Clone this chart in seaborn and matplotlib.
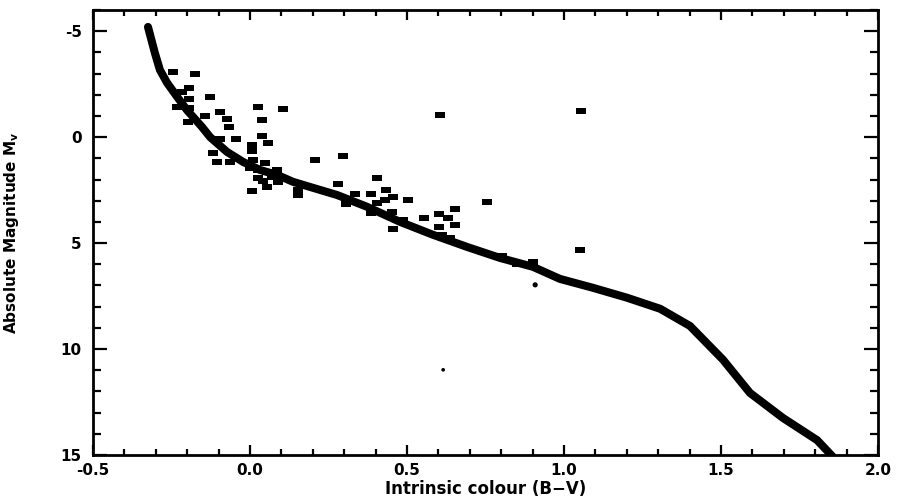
import numpy as np
import pandas as pd
import matplotlib
matplotlib.use("Agg")
import matplotlib.pyplot as plt
from matplotlib.ticker import MultipleLocator, FixedLocator, FixedFormatter
import seaborn as sns

# Main-sequence / ZAMS curve (B-V, M_V)
curve_bv = [-0.325, -0.303, -0.287, -0.264, -0.232, -0.201, -0.153, -0.127,
            -0.073, -0.022, 0.032, 0.086, 0.137, 0.191, 0.277, 0.373, 0.478,
            0.583, 0.691, 0.796, 0.901, 0.987, 1.092, 1.201, 1.306, 1.401,
            1.506, 1.592, 1.697, 1.806, 1.857]
curve_mv = [-5.2, -3.97, -3.17, -2.56, -1.9, -1.28, -0.48, 0.0,
            0.70, 1.17, 1.55, 1.78, 2.11, 2.35, 2.73, 3.29, 4.0,
            4.61, 5.18, 5.70, 6.12, 6.69, 7.11, 7.58, 8.10, 8.91,
            10.5, 12.07, 13.25, 14.3, 15.1]

# Cluster stars (B-V, M_V)
star_bv = [-0.245, -0.175, -0.194, -0.217, -0.194, -0.127, -0.232, -0.194,
           -0.096, -0.143, -0.073, -0.197, -0.067, 0.025, 0.105, 0.038,
           -0.096, -0.045, 0.038, 0.057, 0.006, 0.006, -0.118, -0.105,
           -0.064, 0.010, 0.048, 0.000, 0.025, 0.054, 0.086, 0.070,
           0.089, 0.054, 0.006, 0.153, 0.153, 0.207, 0.280, 0.296,
           0.404, 0.334, 0.306, 0.385, 0.433, 0.455, 0.404, 0.430,
           0.385, 0.452, 0.503, 0.455, 0.554, 0.602, 0.653, 0.631,
           0.653, 0.602, 0.487, 0.755, 0.803, 0.901, 0.605, 1.054,
           0.611, 0.637, 0.850, 1.051, 0.025, 0.041]
star_mv = [-3.08, -2.98, -2.32, -2.13, -1.80, -1.90, -1.42, -1.38,
           -1.19, -1.00, -0.86, -0.72, -0.48, -1.42, -1.33, -0.81,
           0.08, 0.08, -0.06, 0.27, 0.37, 0.65, 0.75, 1.17,
           1.17, 1.08, 1.22, 1.45, 1.55, 1.64, 1.55, 1.88,
           2.11, 2.35, 2.54, 2.49, 2.73, 1.08, 2.21, 0.89,
           1.92, 2.68, 3.15, 2.68, 2.49, 2.82, 3.10, 2.96,
           3.58, 3.53, 2.96, 4.33, 3.81, 3.62, 3.39, 3.81,
           4.14, 4.24, 3.91, 3.06, 5.60, 5.89, -1.05, -1.24,
           4.61, 4.75, 5.98, 5.32, 1.92, 2.07]

# Faint isolated dots
dot_bv = [0.908, 0.615]
dot_mv = [6.97, 10.98]
dot_size = [14, 7]

x_ticks = [-0.5, 0.0, 0.5, 1.0, 1.5, 2.0]
x_tick_labels = ["-0.5", "0.0", "0.5", "1.0", "1.5", "2.0"]
y_ticks = [-5, 0, 5, 10, 15]
y_tick_labels = ["-5", "0", "5", "10", "15"]

sns.set_theme(style="ticks")
plt.rcParams["font.family"] = ["DejaVu Sans"]

fig = plt.figure(figsize=(8.98, 4.97), dpi=100)
ax = fig.add_axes([0.1036, 0.0845, 0.8742, 0.8954])

sns.lineplot(x=curve_bv, y=curve_mv, sort=False, estimator=None,
             color="black", linewidth=5.8, ax=ax)

rect = [(-1, -0.65), (1, -0.65), (1, 0.65), (-1, 0.65), (-1, -0.65)]
sns.scatterplot(x=star_bv, y=star_mv, marker=rect, s=52, color="black",
                linewidth=0, ax=ax, zorder=3)

ax.scatter(dot_bv, dot_mv, s=dot_size, color="black", linewidths=0, zorder=3)

ax.set_xlim(-0.5, 2.0)
ax.set_ylim(15, -6)

ax.xaxis.set_major_locator(FixedLocator(x_ticks))
ax.xaxis.set_major_formatter(FixedFormatter(x_tick_labels))
ax.yaxis.set_major_locator(FixedLocator(y_ticks))
ax.yaxis.set_major_formatter(FixedFormatter(y_tick_labels))
ax.xaxis.set_minor_locator(MultipleLocator(0.1))
ax.yaxis.set_minor_locator(MultipleLocator(1))

for sp in ax.spines.values():
    sp.set_visible(True)
    sp.set_linewidth(2.0)
    sp.set_color("black")

ax.tick_params(axis="both", which="both", direction="in", top=True,
               right=True, color="black", width=1.6)
ax.tick_params(axis="x", which="major", length=7, pad=6)
ax.tick_params(axis="x", which="minor", length=4)
ax.tick_params(axis="y", which="major", length=10, pad=8)
ax.tick_params(axis="y", which="minor", length=6)

for lab in ax.get_xticklabels() + ax.get_yticklabels():
    lab.set_fontweight("bold")
    lab.set_fontsize(11)
    lab.set_color("black")

ax.set_xlabel("Intrinsic colour (B\u2212V)", fontsize=12, fontweight="bold",
              color="black", labelpad=1)
ax.set_ylabel("Absolute Magnitude M$_\\mathregular{v}$",
              fontsize=11, fontweight="bold", color="black",
              family=["Liberation Sans Narrow", "DejaVu Sans"])
ax.yaxis.set_label_coords(-0.092, 0.5)

fig.savefig("out.png", dpi=100, facecolor="white")
